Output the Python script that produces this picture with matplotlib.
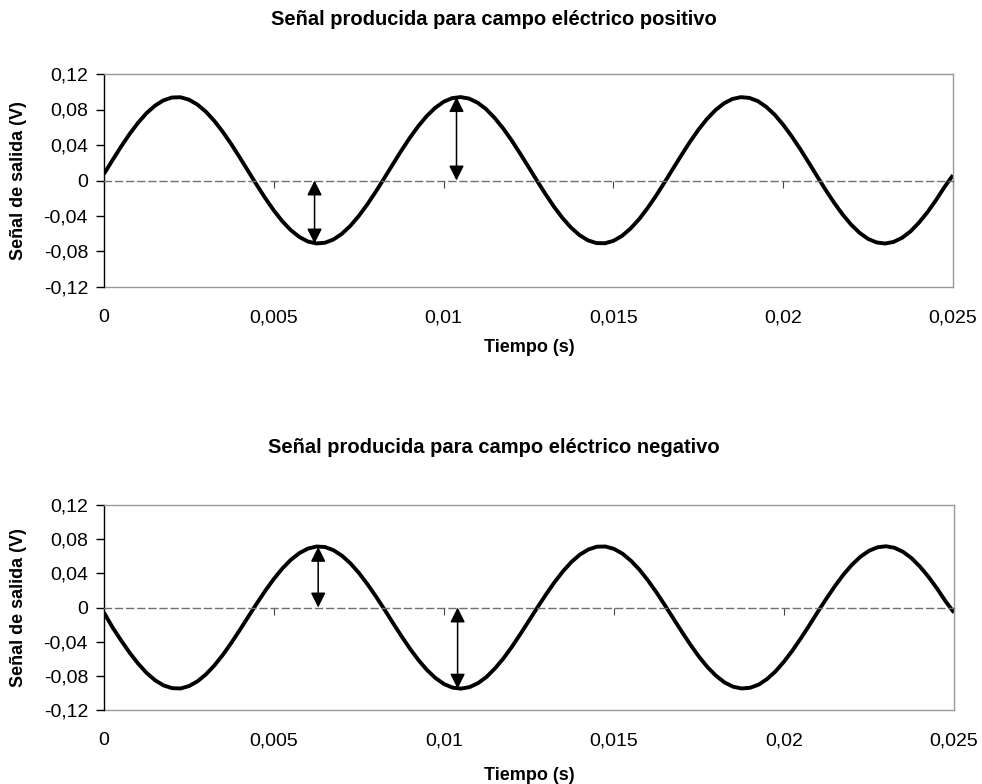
import matplotlib.pyplot as plt
from matplotlib.ticker import FixedLocator, FixedFormatter

plt.rcParams['font.family'] = ['Liberation Sans', 'DejaVu Sans']

# tiempo (s), un punto cada 0,00025 s
tiempo = [i * 0.00025 for i in range(101)]

senal_pos = [0.0074, 0.0229, 0.0380, 0.0522, 0.0649, 0.0758, 0.0843, 0.0903, 0.0935, 0.0938,
             0.0911, 0.0856, 0.0775, 0.0671, 0.0547, 0.0408, 0.0258, 0.0103, -0.0051, -0.0200,
             -0.0337, -0.0459, -0.0559, -0.0636, -0.0687, -0.0709, -0.0702, -0.0666, -0.0602, -0.0513,
             -0.0401, -0.0271, -0.0128, 0.0024, 0.0180, 0.0333, 0.0478, 0.0610, 0.0725, 0.0818,
             0.0887, 0.0928, 0.0940, 0.0923, 0.0877, 0.0805, 0.0706, 0.0589, 0.0454, 0.0306,
             0.0153, -0.0002, -0.0153, -0.0295, -0.0422, -0.0530, -0.0615, -0.0674, -0.0705, -0.0707,
             -0.0680, -0.0625, -0.0543, -0.0439, -0.0314, -0.0175, -0.0025, 0.0130, 0.0284, 0.0433,
             0.0570, 0.0691, 0.0791, 0.0868, 0.0918, 0.0939, 0.0931, 0.0895, 0.0830, 0.0741,
             0.0628, 0.0498, 0.0355, 0.0203, 0.0047, -0.0106, -0.0251, -0.0383, -0.0497, -0.0590,
             -0.0658, -0.0698, -0.0710, -0.0692, -0.0646, -0.0573, -0.0474, -0.0356, -0.0221, -0.0073,
             0.0060]

senal_neg = [-0.0060, -0.0232, -0.0384, -0.0527, -0.0655, -0.0765, -0.0851, -0.0912, -0.0944, -0.0948,
             -0.0920, -0.0864, -0.0782, -0.0677, -0.0552, -0.0411, -0.0260, -0.0104, 0.0051, 0.0200,
             0.0337, 0.0459, 0.0560, 0.0638, 0.0690, 0.0714, 0.0708, 0.0671, 0.0606, 0.0516,
             0.0403, 0.0272, 0.0128, -0.0024, -0.0182, -0.0336, -0.0483, -0.0616, -0.0732, -0.0826,
             -0.0896, -0.0938, -0.0950, -0.0932, -0.0886, -0.0813, -0.0713, -0.0595, -0.0458, -0.0309,
             -0.0154, 0.0002, 0.0153, 0.0296, 0.0424, 0.0534, 0.0620, 0.0680, 0.0712, 0.0714,
             0.0686, 0.0630, 0.0547, 0.0442, 0.0316, 0.0176, 0.0025, -0.0131, -0.0287, -0.0437,
             -0.0576, -0.0698, -0.0799, -0.0877, -0.0927, -0.0948, -0.0940, -0.0904, -0.0838, -0.0748,
             -0.0634, -0.0503, -0.0358, -0.0205, -0.0047, 0.0106, 0.0252, 0.0386, 0.0501, 0.0595,
             0.0664, 0.0705, 0.0717, 0.0699, 0.0652, 0.0578, 0.0478, 0.0359, 0.0223, 0.0074,
             -0.0060]

# flechas (tiempo, extremo) desde el cero hasta el pico
flechas_pos = [(0.0062, -0.071), (0.01038, 0.094)]
flechas_neg = [(0.0063, 0.071), (0.0104, -0.095)]

titulos = ['Señal producida para campo eléctrico positivo',
           'Señal producida para campo eléctrico negativo']
xticks = [0, 0.005, 0.01, 0.015, 0.02, 0.025]
xlabels = ['0', '0,005', '0,01', '0,015', '0,02', '0,025']
yticks = [0.12, 0.08, 0.04, 0, -0.04, -0.08, -0.12]
ylabels = ['0,12', '0,08', '0,04', '0', '-0,04', '-0,08', '-0,12']

W, H = 982, 784
fig = plt.figure(figsize=(W / 100, H / 100), dpi=100)
ax1 = fig.add_axes([104 / W, 1 - 287 / H, 849 / W, 213 / H])
ax2 = fig.add_axes([104 / W, 1 - 710 / H, 850 / W, 205 / H])

gris = '#999999'


def estilo(ax, y, flechas):
    ax.plot(tiempo, y, color='black', lw=2.8, solid_joinstyle='round', solid_capstyle='butt')
    ax.set_xlim(0, 0.025)
    ax.set_ylim(-0.12, 0.12)
    for s in ['top', 'right']:
        ax.spines[s].set_color(gris)
        ax.spines[s].set_linewidth(1.0)
    ax.spines['left'].set_color('black')
    ax.spines['left'].set_linewidth(1.0)
    # eje x cruzando en cero, discontinuo
    ax.spines['bottom'].set_position(('data', 0))
    ax.spines['bottom'].set_linestyle((0, (5, 3)))
    ax.spines['bottom'].set_linewidth(1.0)
    ax.spines['bottom'].set_color('#707070')
    ax.xaxis.set_major_locator(FixedLocator(xticks))
    ax.tick_params(axis='x', direction='out', length=5, width=0.8, color='#444444', labelbottom=False)
    ax.yaxis.set_major_locator(FixedLocator(yticks))
    ax.yaxis.set_major_formatter(FixedFormatter(ylabels))
    ax.tick_params(axis='y', direction='out', length=5.5, width=1.0, labelsize=14, pad=6)

    sec = ax.secondary_xaxis('bottom')
    sec.xaxis.set_major_locator(FixedLocator(xticks))
    sec.xaxis.set_major_formatter(FixedFormatter(xlabels))
    sec.tick_params(length=0, labelsize=14, pad=16)
    sec.spines['bottom'].set_color(gris)
    sec.spines['bottom'].set_linewidth(1.0)

    for xt, ye in flechas:
        ax.annotate('', xy=(xt, ye), xytext=(xt, 0),
                    arrowprops=dict(arrowstyle='<|-|>,head_length=0.6,head_width=0.3',
                                    color='black', lw=1.1, mutation_scale=15,
                                    shrinkA=0, shrinkB=0))


estilo(ax1, senal_pos, flechas_pos)
estilo(ax2, senal_neg, flechas_neg)

# titulos, centrados en la figura
fig.text(494 / W, 1 - 25 / H, titulos[0], ha='center', va='baseline', fontsize=14.5, fontweight='bold')
fig.text(494 / W, 1 - 453 / H, titulos[1], ha='center', va='baseline', fontsize=14.5, fontweight='bold')

# etiquetas de ejes
for yc, yb in [(180.5, 352), (607.5, 780)]:
    fig.text(19 / W, 1 - yc / H, 'Señal de salida (V)', rotation=90, ha='center', va='center',
             fontsize=13, fontweight='bold')
    fig.text(529 / W, 1 - yb / H, 'Tiempo (s)', ha='center', va='baseline',
             fontsize=13, fontweight='bold')

fig.savefig('out.png', dpi=100)
